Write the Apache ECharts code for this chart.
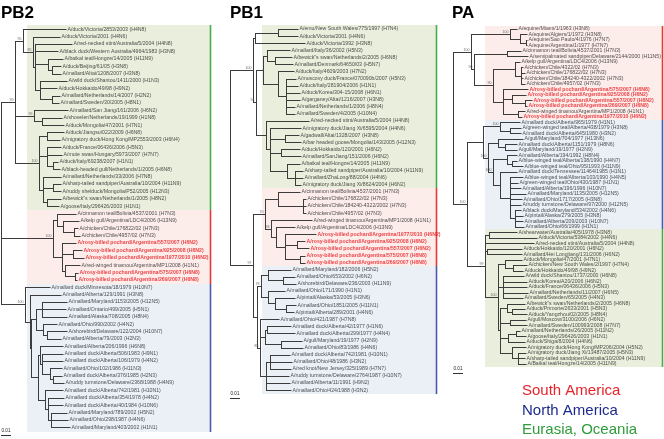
<!DOCTYPE html>
<html><head><meta charset="utf-8">
<script src="https://cdn.jsdelivr.net/npm/echarts/dist/echarts.min.js"></script>
<style>html,body{margin:0;padding:0;background:#fff}#c{width:664px;height:439px}</style>
</head><body><div id="c"></div>
<script>
// Branch lengths in the Newick strings are in 1/1000 substitutions per site.
const UNIT = 0.001;
const scaleBarLength = 0.01;

const pb2Leaves = [
"A/duck/Victoria/2853/2003 (H4N8)","A/duck/Victoria/2001 (H4N6)","A/red-necked stint/Australia/5/2004 (H4N8)",
"A/black duck/Western Australia/4964/1983 (H3N8)","A/baikal teal/Hongze/14/2005 (H11N9)","A/duck/Beijing/61/05 (H3N8)",
"A/mallard/Altai/1208/2007 (H3N8)","A/wild duck/Shantou/1411/2000 (H1N3)","A/duck/Hokkaido/49/98 (H9N2)",
"A/mallard/Netherlands/14/2007 (H2N2)","A/mallard/Sweden/30/2005 (H8N1)","A/mallard/San Jiang/161/2006 (H6N2)",
"A/shoveler/Netherlands/19/1999 (H1N8)","A/duck/Mongolia/47/2001 (H7N1)","A/duck/Jiangsu/022/2009 (H6N8)",
"A/migratory duck/Hong Kong/MP2553/2003 (H6N4)","A/duck/France/06436/2006 (H5N3)","A/mute swan/Hungary/5973/2007 (H7N7)",
"A/duck/Italy/69238/2007 (H1N1)","A/black-headed gull/Netherlands/1/2005 (H6N8)","A/mallard/Netherlands/33/2006 (H7N8)",
"A/sharp-tailed sandpiper/Australia/10/2004 (H11N9)","A/ruddy shelduck/Mongolia/P52/2005 (H12N3)","A/bewick\"s swan/Netherlands/1/2005 (H8N2)",
"A/goose/Italy/296426/2003 (H1N1)","A/cinnamon teal/Bolivia/4537/2001 (H7N3)","A/kelp gull/Argentina/LDC4/2006 (H13N9)",
"A/chicken/Chile/176822/02 (H7N3)","A/chicken/Chile/4957/02 (H7N3)","A/rosy-billed pochard/Argentina/557/2007 (H6N2)",
"A/rosy-billed pochard/Argentina/925/2008 (H6N2)","A/rosy-billed pochard/Argentina/1977/2010 (H6N2)","A/red-winged tinamou/Argentina/MP1/2008 (H1N1)",
"A/rosy-billed pochard/Argentina/575/2007 (H6N8)","A/rosy-billed pochard/Argentina/269/2007 (H6N8)","A/mallard duck/Minnesota/18/1979 (H10N7)",
"A/mallard/Alberta/129/1991 (H3N8)","A/mallard/Maryland/1153/2005 (H12N5)","A/mallard/Ontario/499/2005 (H5N1)",
"A/mallard/Alaska/708/2005 (H8N4)","A/mallard/Ohio/990/2002 (H4N2)","A/shorebird/Delaware/122/2004 (H10N7)",
"A/mallard/Alberta/79/2003 (H2N3)","A/mallard/Alberta/206/1996 (H6N8)","A/mallard duck/Alberta/506/1983 (H9N1)",
"A/mallard duck/Alberta/106/1979 (H4N2)","A/mallard/Ohio/102/1986 (H11N3)","A/mallard duck/Alberta/376/1985 (H2N3)",
"A/ruddy turnstone/Delaware/2368/1988 (H4N9)","A/mallard duck/Alberta/742/1981 (H10N1)","A/mallard duck/Alberta/354/1978 (H4N2)",
"A/mallard duck/Alberta/40/1984 (H10N6)","A/mallard/Maryland/789/2002 (H5N2)","A/mallard/Ohio/298/1987 (H4N6)",
"A/mallard/Maryland/403/2002 (H1N1)"];
const pb2Newick = "(((0:43,(1:27,(2:37,3:23,(4:15,(5:9,6:9):4):13,(7:27,8:17,(9:8,10:7):12):5):2)85:10)95:8,(11:34,(12:20,13:22):8)95:19,((14:17,15:13):8,(16:14,17:15,(18:5,19:7):6):8,(20:18,(21:8,22:8):10,(23:14,24:12):4):4)100:24)99:14,((25:19,(26:16,(27:4,28:6):11):6):4,(29:14,(30:9,31:11):11,(32:15,(33:3,34:2):10):3):9)100:52,(35:25,(36:31,(((37:25,38:24,39:25):6,(40:14,(41:20,42:14):4):7):5,((43:23,(44:21,45:21,(46:12,(47:9,48:11):3):8):2):2,(49:18,(50:16,51:15,(52:16,53:17,54:19):3):3):7):7):1):5)100:24);";
const pb2Regions = [[0,24,'eurasia'],[25,34,'south'],[35,54,'north']];

const pb1Leaves = [
"A/emu/New South Wales/775/1997 (H7N4)","A/duck/Victoria/2001 (H4N6)","A/duck/Victoria/1992 (H3N8)",
"A/mallard/Italy/36/2002 (H5N3)","A/bewick\"s swan/Netherlands/2/2005 (H6N8)","A/mallard/Denmark/64650/03 (H5N7)",
"A/duck/Italy/4609/2003 (H7N2)","A/muscovy duck/France/070090b/2007 (H5N3)","A/duck/Italy/281904/2006 (H1N1)",
"A/duck/Korea/304-15/2008 (H6N1)","A/garganey/Altai/1216/2007 (H3N8)","A/mallard/Netherlands/1/2006 (H8N4)",
"A/mallard/Sweden/4/2005 (H10N4)","A/red-necked stint/Australia/5/2004 (H4N8)","A/migratory duck/Jiang Xi/6595/2004 (H4N6)",
"A/gadwall/Altai/1328/2007 (H3N8)","A/bar headed goose/Mongolia/143/2005 (H12N3)","A/duck/Hokkaido/120/2001 (H6N2)",
"A/mallard/SanJiang/151/2006 (H6N2)","A/baikal teal/Hongze/14/2005 (H11N9)","A/sharp-tailed sandpiper/Australia/10/2004 (H11N9)",
"A/mallard/ZhaLong/88/2004 (H4N6)","A/migratory duck/Jiang Xi/8624/2004 (H6N2)","A/cinnamon teal/Bolivia/4537/2001 (H7N3)",
"A/chicken/Chile/176822/02 (H7N3)","A/chicken/Chile/184240-4322/2002 (H7N3)","A/chicken/Chile/4957/02 (H7N3)",
"A/red-winged tinamou/Argentina/MP1/2008 (H1N1)","A/kelp gull/Argentina/LDC4/2006 (H13N9)","A/rosy-billed pochard/Argentina/1977/2010 (H6N2)",
"A/rosy-billed pochard/Argentina/925/2008 (H6N2)","A/rosy-billed pochard/Argentina/557/2007 (H6N2)","A/rosy-billed pochard/Argentina/575/2007 (H6N8)",
"A/rosy-billed pochard/Argentina/269/2007 (H6N8)","A/mallard/Maryland/182/2006 (H5N2)","A/mallard/Ohio/653/2002 (H6N2)",
"A/shorebird/Delaware/236/2003 (H11N9)","A/mallard/Ohio/171/1990 (H1N1)","A/pintail/Alaska/53/2005 (H3N6)",
"A/mallard/Ohio/1851/2005 (H11N1)","A/pintail/Alberta/289/2001 (H4N6)","A/mallard/Ohio/421/1987 (H7N8)",
"A/mallard duck/Alberta/42/1977 (H1N6)","A/mallard duck/Alberta/299/1977 (H4N4)","A/gull/Maryland/19/1977 (H2N9)",
"A/mallard/Ohio/83/1986 (H4N6)","A/mallard duck/Alberta/742/1981 (H10N1)","A/mallard/Ohio/48/1986 (H3N2)",
"A/red knot/New Jersey/325/1989 (H7N7)","A/ruddy turnstone/Delaware/2764/1987 (H10N7)","A/mallard/Alberta/11/1991 (H9N2)",
"A/mallard/Ohio/424/1988 (H3N2)"];
const pb1Newick = "((((0:20,1:20):23,2:50):2,(((3:23,(4:17,5:18):8):4,(6:16,(7:10,8:12,9:14,10:14,11:9,12:9):8):15):7,(13:43,(14:31,(15:14,16:16):15,(17:19,18:20):11,(19:13,(20:8,21:8,22:6):8):17):4):10)94:3)100:23,(((23:22,(24:3,25:3,26:3):25):13,(27:41,(28:19,(29:31,(30:8,31:12):12,(32:5,33:5):15):9):5)93:6)70:12,(((34:23,(35:12,36:13):15):7,(37:17,(38:20,(39:10,40:8):11):7):7)78:4,(41:19,((42:24,43:28):2,(44:21,45:22):16):5,((46:20,47:22,48:21):4,49:23,50:24,51:25):6)85:3):4)97:23);";
const pb1Regions = [[0,22,'eurasia'],[23,33,'south'],[34,51,'north']];

const paLeaves = [
"A/equine/Miami/1/1963 (H3N8)","A/equine/Algiers/1/1972 (H3N8)","A/equine/Sao Paulo/4/1976 (H7N7)",
"A/equine/Argentina/1/1977 (H7N7)","A/cinnamon teal/Bolivia/4537/2001 (H7N3)","A/semipalmated sandpiper/Delaware/2144/2000 (H11N5)",
"A/kelp gull/Argentina/LDC4/2006 (H13N9)","A/chicken/Chile/4322/02 (H7N3)","A/chicken/Chile/176822/02 (H7N3)",
"A/chicken/Chile/184240-4322/2002 (H7N3)","A/chicken/Chile/4957/02 (H7N3)","A/rosy-billed pochard/Argentina/575/2007 (H6N8)",
"A/rosy-billed pochard/Argentina/925/2008 (H6N2)","A/rosy-billed pochard/Argentina/557/2007 (H6N2)","A/rosy-billed pochard/Argentina/269/2007 (H6N8)",
"A/red-winged tinamou/Argentina/MP1/2008 (H1N1)","A/rosy-billed pochard/Argentina/1977/2010 (H6N2)","A/mallard duck/Alberta/965/1979 (H1N1)",
"A/green-winged teal/Alberta/438/1979 (H3N8)","A/mallard duck/Alberta/645/1980 (H3N2)","A/gull/Maryland/704/1977 (H13N6)",
"A/mallard duck/Alberta/1151/1979 (H8N6)","A/gull/Maryland/19/1977 (H2N9)","A/mallard/Alberta/194/1992 (H8N4)",
"A/blue-winged teal/Alberta/138/1990 (H4N7)","A/blue-winged teal/Ohio/95/1993 (H11N9)","A/mallard duck/Tennessee/11464/1985 (H1N1)",
"A/blue-winged teal/Alberta/103/1990 (H4N5)","A/green-winged teal/Ohio/430/1987 (H1N1)","A/mallard/Alberta/196/1996 (H10N7)",
"A/mallard/Maryland/1135/2005 (H12N5)","A/mallard/Ohio/1717/2005 (H3N8)","A/ruddy turnstone/Delaware/97/2000 (H12N5)",
"A/black duck/Maryland/534/2002 (H4N6)","A/pintail/Alaska/279/2005 (H3N8)","A/mallard/Alberta/209/2003 (H10N7)",
"A/mallard/Ohio/66/1999 (H1N1)","A/shearwater/Australia/405/1978 (H3N8)","A/duck/Victoria/5384/2002 (H4N6)",
"A/red-necked stint/Australia/5/2004 (H4N8)","A/duck/Hokkaido/120/2001 (H6N2)","A/mallard/Hei Longjiang/131/2006 (H6N2)",
"A/duck/Mongolia/47/2001 (H7N1)","A/chicken/New South Wales/2/1997 (H7N4)","A/duck/Hokkaido/49/98 (H9N2)",
"A/wild duck/Shantou/1737/2000 (H6N8)","A/duck/Korea/A20/2006 (H6N2)","A/duck/France/06436/2006 (H5N3)",
"A/mallard/Netherlands/11/2007 (H6N5)","A/mallard/Sweden/65/2005 (H4N3)","A/bewick\"s swan/Netherlands/2/2005 (H6N8)",
"A/duck/Primorie/2633/2001 (H5N3)","A/duck/Yangzhou/02/2005 (H8N4)","A/gull/Moscow/3100/2006 (H6N2)",
"A/mallard/Sweden/100993/2008 (H7N7)","A/mallard/Netherlands/26/2005 (H11N2)","A/goose/Italy/296426/2003 (H1N1)",
"A/duck/Shiga/8/2004 (H4N6)","A/migratory duck/Hong Kong/MP206/2004 (H5N2)","A/migratory duck/Jiang Xi/13487/2005 (H5N3)",
"A/sharp-tailed sandpiper/Australia/10/2004 (H11N9)","A/Baikal teal/Hongze/14/2005 (H11N9)"];
const paNewick = "(((0:7,(1:7,(2:1,3:1):6):10)100:39,((4:14,5:21):33,((6:5,(7:2,8:4,9:2,10:4):6):22,(11:25,(12:14,(13:7,14:2):13):9,(15:7,16:4):15):10)90:19)96:3)100:18,(((17:20,(18:11,19:11):10)100:17,((20:25,(21:12,22:12):7):10,((23:10,(24:5,25:11):5):14,(26:17,(27:13,28:8,29:11,30:16,31:12,32:11,(33:6,34:8,35:8,36:9):5):10):7)100:5)100:5):16,((37:28,38:48):4,39:49,(40:35,41:35):2,((42:17,(43:14,44:10):8):7,(45:21,46:24,47:24,48:25,49:20):5,((50:18,(51:13,52:15):5):7,(53:16,54:17):10,((55:4,56:10):8,57:17):8,(58:14,(59:8,60:7,61:8):6):12):2)100:13)99:18)100:14);";
const paRegions = [[0,16,'south'],[17,36,'north'],[37,61,'eurasia']];

const legendItems = ['South America','North America','Eurasia, Oceania'];

// ---------- styling ----------
const regionStyle = {
  south:   {fill:'#fcedeb', line:'#e53a35'},
  north:   {fill:'#ebf0f7', line:'#4a5aab'},
  eurasia: {fill:'#e9efdc', line:'#49ab4c'}
};
const legendColors = ['#e8232b','#1d2a8c','#2f9d3a'];
const FONT = '"Liberation Sans", Arial, sans-serif';
const HIDDEN = 'rgba(0,0,0,0)';

const panels = [
  {title:'PB2', leaves:pb2Leaves, newick:pb2Newick, regions:pb2Regions, left:1,   top:29.3, rowGap:7.37, width:209, boxStart:0.026, titleX:1,   scaleRow:55.05},
  {title:'PB1', leaves:pb1Leaves, newick:pb1Newick, regions:pb1Regions, left:230, top:29,   rowGap:7.08, width:206, boxStart:0.032, titleX:230, scaleRow:52.1},
  {title:'PA',  leaves:paLeaves,  newick:paNewick,  regions:paRegions,  left:453, top:29,   rowGap:5.49, width:209, boxStart:0.032, titleX:452, scaleRow:62.66}
];

function parseNewick(str){
  const s = str.replace(/\s+/g,''); let i = 0;
  function node(){
    const n = {children:[], len:0, label:''};
    if (s[i] === '('){
      i++; n.children.push(node());
      while (s[i] === ','){ i++; n.children.push(node()); }
      i++;
    }
    let lab=''; while (i < s.length && ':,);'.indexOf(s[i]) < 0) lab += s[i++];
    n.label = lab;
    if (s[i] === ':'){ i++; let num=''; while (i < s.length && ',);'.indexOf(s[i]) < 0) num += s[i++]; n.len = parseFloat(num); }
    return n;
  }
  return node();
}
function layoutTree(tree){
  const segs=[], tips=[], boots=[];
  (function walk(n, px){
    n.x = px + n.len*UNIT;
    if (!n.children.length){ n.y = parseInt(n.label,10); tips.push(n); }
    else {
      n.children.forEach(c => walk(c, n.x));
      const f = n.children[0], l = n.children[n.children.length-1];
      n.y = (f.y + l.y)/2;
      segs.push([n.x, f.y, n.x, l.y]);
      if (n.label) boots.push(n);
    }
    if (n !== tree) segs.push([px, n.y, n.x, n.y]);
  })(tree, 0);
  return {segs, tips, boots};
}

const grid=[], xAxis=[], yAxis=[], series=[], graphic=[];
panels.forEach((p, gi) => {
  const N = p.leaves.length;
  grid.push({left:p.left, top:p.top, width:p.width, height:(N-1)*p.rowGap});
  xAxis.push({type:'value', gridIndex:gi, min:0, max:p.width*UNIT, show:false});
  yAxis.push({type:'value', gridIndex:gi, min:0, max:N-1, inverse:true, show:false});
  const lay = layoutTree(parseNewick(p.newick));

  // regions
  const regData = p.regions.map((r, k) => {
    const y0 = k === 0 ? r[0]-0.6 : r[0]-0.5;
    const y1 = k === p.regions.length-1 ? r[1]+0.6 : r[1]+0.5;
    return [p.boxStart, y0, p.width*UNIT, y1, r[2]];
  });
  series.push({type:'custom', xAxisIndex:gi, yAxisIndex:gi, z:1, silent:true,
    data: regData.map(d => d.slice(0,4)),
    encode:{x:[0,2], y:[1,3]},
    renderItem:(params, api) => {
      const st = regionStyle[regData[params.dataIndex][4]];
      const a = api.coord([api.value(0), api.value(1)]);
      const b = api.coord([api.value(2), api.value(3)]);
      return {type:'group', children:[
        {type:'rect', shape:{x:Math.round(a[0]), y:Math.round(a[1]), width:Math.round(b[0])-Math.round(a[0]), height:Math.round(b[1])-Math.round(a[1])}, style:{fill:st.fill}},
        {type:'line', shape:{x1:Math.round(b[0])+0.5, y1:Math.round(a[1]), x2:Math.round(b[0])+0.5, y2:Math.round(b[1])}, style:{stroke:st.line, lineWidth:1.6}}
      ]};
    }
  });

  // branches
  series.push({type:'custom', xAxisIndex:gi, yAxisIndex:gi, z:2, silent:true,
    data: lay.segs, encode:{x:[0,2], y:[1,3]},
    renderItem:(params, api) => {
      const a = api.coord([api.value(0), api.value(1)]);
      const b = api.coord([api.value(2), api.value(3)]);
      let shape;
      if (Math.abs(a[1]-b[1]) < 0.01){
        const y = Math.round(a[1]) + 0.5;
        shape = {x1:Math.round(a[0]), y1:y, x2:Math.round(b[0])+0.5, y2:y};
      } else {
        const x = Math.round(a[0]) + 0.5;
        shape = {x1:x, y1:Math.round(a[1]), x2:x, y2:Math.round(b[1])+1};
      }
      return {type:'line', shape, style:{stroke:'#3c3c3c', lineWidth:1}};
    }
  });

  // scale bar
  series.push({type:'custom', xAxisIndex:gi, yAxisIndex:gi, z:2, silent:true,
    data:[[0, p.scaleRow, scaleBarLength, p.scaleRow]], encode:{x:[0,2], y:[1,3]},
    renderItem:(params, api) => {
      const a = api.coord([api.value(0), api.value(1)]);
      const b = api.coord([api.value(2), api.value(3)]);
      const y = Math.round(a[1]) + 0.5;
      return {type:'group', children:[
        {type:'line', shape:{x1:a[0], y1:y, x2:b[0], y2:y}, style:{stroke:'#333', lineWidth:1}},
        {type:'text', style:{x:(a[0]+b[0])/2, y:y-2, text:'0.01', font:'4.6px '+FONT, fill:'#222', align:'center', verticalAlign:'bottom'}}
      ]};
    }
  });

  // tip labels
  series.push({type:'scatter', xAxisIndex:gi, yAxisIndex:gi, z:3, silent:true, symbolSize:1,
    itemStyle:{color:HIDDEN},
    data: lay.tips.map(t => {
      const name = p.leaves[t.y];
      const red = name.indexOf('rosy-billed pochard') >= 0;
      return {value:[t.x, t.y], name,
        label:{color: red ? '#e8161d' : '#1e1e1e', fontWeight: red ? 'bold' : 'normal'}};
    }),
    label:{show:true, position:'right', distance:1, formatter:q => q.name, fontSize:5.2, fontFamily:FONT}
  });

  // bootstrap support
  series.push({type:'scatter', xAxisIndex:gi, yAxisIndex:gi, z:3, silent:true, symbolSize:1,
    itemStyle:{color:HIDDEN},
    data: lay.boots.map(b => ({value:[b.x, b.y], name:b.label})),
    label:{show:true, position:'left', distance:1, verticalAlign:'bottom', formatter:q => q.name, fontSize:3.6, fontFamily:FONT, color:'#444'}
  });

  graphic.push({type:'text', x:p.titleX, y:13, style:{text:p.title, font:'bold 17px '+FONT, fill:'#000', verticalAlign:'middle'}});
});

legendItems.forEach((t, k) => {
  graphic.push({type:'text', x:522, y:391 + k*19.5, style:{text:t, font:'15px '+FONT, fill:legendColors[k], verticalAlign:'middle'}});
});

const chart = echarts.init(document.getElementById('c'), null, {renderer:'canvas'});
chart.setOption({animation:false, backgroundColor:'#fff', grid, xAxis, yAxis, series, graphic});
</script>
</body></html>
